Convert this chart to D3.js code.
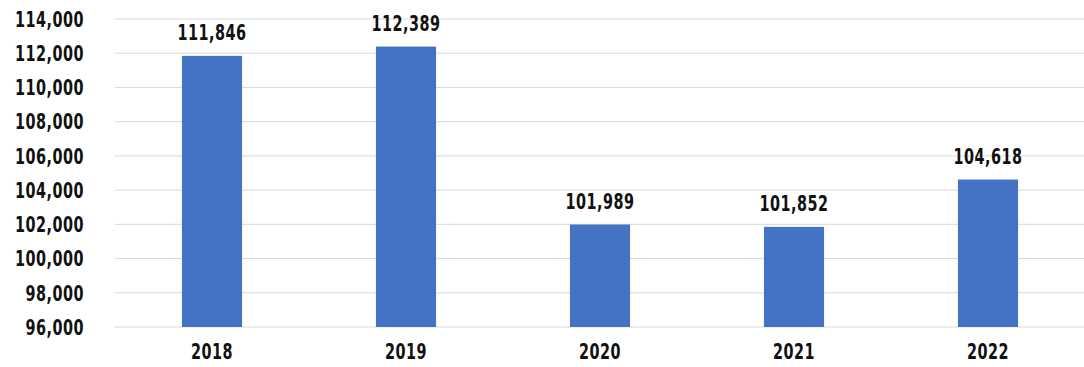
<!DOCTYPE html>
<html><head><meta charset="utf-8">
<script src="https://cdn.jsdelivr.net/npm/d3@7"></script>
<style>body{margin:0;background:#fff}svg text{font-family:"DejaVu Sans Condensed","DejaVu Sans",sans-serif;font-weight:bold;fill:#111;letter-spacing:0.5px}</style>
</head><body>
<svg id="c" width="1084" height="367"></svg>
<script>
const categories = ["2018","2019","2020","2021","2022"];
const values = [111846,112389,101989,101852,104618];
const yTicks = [96000,98000,100000,102000,104000,106000,108000,110000,112000,114000];

const svg = d3.select("#c");
const x = d3.scaleBand().domain(categories).range([115,1085]).padding(0);
const y = d3.scaleLinear().domain([96000,114000]).range([327,19]);
const fmt = d3.format(",");
const FONT = '"DejaVu Sans Condensed","DejaVu Sans",sans-serif';
const SY = 1.28;

svg.append("g").selectAll("line").data(yTicks).join("line")
  .attr("x1",115).attr("x2",1084)
  .attr("y1",d=>y(d)).attr("y2",d=>y(d))
  .attr("stroke","#d9d9d9").attr("stroke-width",1);

const yAxis = svg.append("g").attr("transform","translate(115,0)")
  .call(d3.axisLeft(y).tickValues(yTicks).tickFormat(fmt).tickSize(0).tickPadding(31));
yAxis.select(".domain").remove();
yAxis.selectAll("text").attr("font-size",16).attr("dy",null).attr("dominant-baseline","central")
  .attr("transform",`scale(1,${SY})`)
  .style("font-family",FONT).style("font-weight","bold").attr("fill","#111");

const bw = x.bandwidth()*0.31;
svg.append("g").selectAll("rect").data(values).join("rect")
  .attr("x",(d,i)=>x(categories[i])+x.bandwidth()/2-bw/2)
  .attr("width",bw)
  .attr("y",d=>y(d)).attr("height",d=>y(96000)-y(d))
  .attr("fill","#4472c4");

svg.append("g").selectAll("g").data(values).join("g")
  .attr("transform",(d,i)=>`translate(${x(categories[i])+x.bandwidth()/2},${y(d)-16})`)
  .append("text")
  .attr("transform",`scale(1,${SY})`)
  .attr("text-anchor","middle").attr("font-size",16)
  .text(d=>fmt(d));

const xAxis = svg.append("g").attr("transform","translate(0,327)")
  .call(d3.axisBottom(x).tickSize(0).tickPadding(0));
xAxis.select(".domain").remove();
xAxis.selectAll("text").attr("font-size",16).attr("y",null).attr("dy",null)
  .attr("dominant-baseline","central")
  .attr("transform",`translate(0,25) scale(1,${SY})`)
  .style("font-family",FONT).style("font-weight","bold").attr("fill","#111");
</script>
</body></html>
